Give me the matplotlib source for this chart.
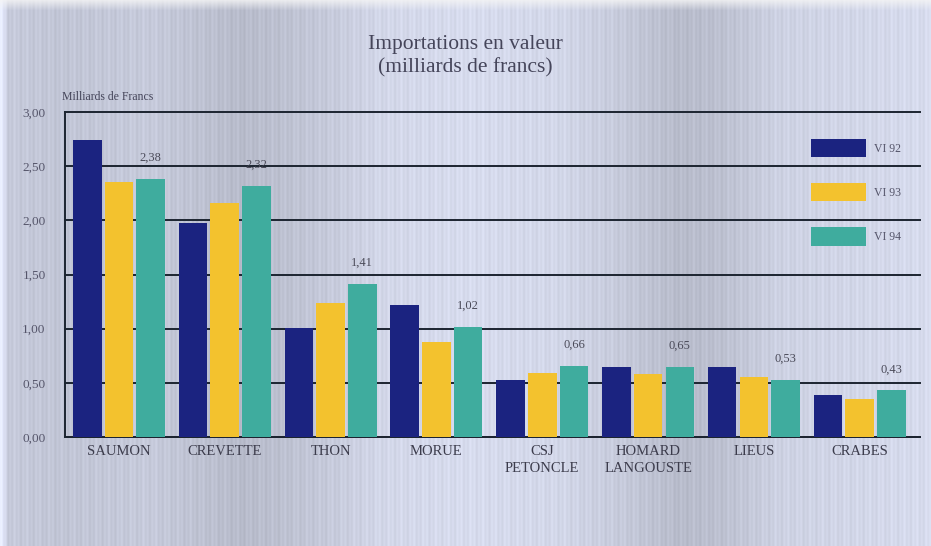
import numpy as np
import matplotlib
matplotlib.use("Agg")
import matplotlib.pyplot as plt

# import values, in billions of francs
categories = ["SAUMON", "CREVETTE", "THON", "MORUE", "CSJ\nPETONCLE",
              "HOMARD\nLANGOUSTE", "LIEUS", "CRABES"]
vi92 = [2.74, 1.98, 1.01, 1.22, 0.53, 0.65, 0.65, 0.39]
vi93 = [2.35, 2.16, 1.24, 0.88, 0.59, 0.58, 0.55, 0.35]
vi94 = [2.38, 2.32, 1.41, 1.02, 0.66, 0.65, 0.53, 0.43]
series_names = ["VI 92", "VI 93", "VI 94"]
yticks = [0.0, 0.5, 1.0, 1.5, 2.0, 2.5, 3.0]

colors = ["#1b2380", "#f3c22e", "#3fac9e"]
serif = "Liberation Serif"

W, H = 931, 546
fig = plt.figure(figsize=(W / 100, H / 100), dpi=100)

# paper background: pale grey-lavender wash with fine vertical streaks
bx = [0, 8, 60, 150, 240, 280, 330, 380, 470, 560, 620, 680, 720, 780, 860, 931]
br = [0.97, 0.82, 0.80, 0.82, 0.76, 0.78, 0.82, 0.87, 0.89, 0.87, 0.82, 0.76, 0.78, 0.85, 0.87, 0.89]
bg = fig.add_axes([0, 0, 1, 1])
xs = np.arange(W)
lum = np.interp(xs, bx, br)
streak = 0.018 * np.sin(xs * 2 * np.pi / 4.3) + 0.012 * np.sin(xs * 2 * np.pi / 11.7)
lum = lum + streak
rows = np.arange(H)[:, None]
top_fade = np.clip((10 - rows) / 10, 0, 1) * 0.8
img = np.zeros((H, W, 3))
img[..., 0] = (lum * 0.95)[None, :]
img[..., 1] = (lum * 0.97)[None, :]
img[..., 2] = np.clip(lum * 1.05, 0, 1)[None, :]
img = img * (1 - top_fade[..., None]) + 0.96 * top_fade[..., None]
bg.imshow(np.clip(img, 0, 1), aspect="auto", extent=[0, 1, 0, 1])
bg.set_axis_off()

ax = fig.add_axes([65 / W, 1 - 437 / H, (920 - 65) / W, (437 - 112) / H])
ax.set_facecolor("none")

x = np.arange(len(categories))
w = 0.27
off = 0.30
for i, (vals, c) in enumerate(zip([vi92, vi93, vi94], colors)):
    ax.bar(x + (i - 1) * off, vals, width=w, color=c, zorder=3,
           label=series_names[i])

for xi, v in zip(x, vi94):
    ax.text(xi + off, v + 0.14, f"{v:.2f}".replace(".", ","), ha="center",
            va="bottom", fontsize=9, color="#4a4a58", family=serif)

ax.set_ylim(0, 3.0)
ax.set_xlim(-0.51, 7.57)
ax.set_yticks(yticks)
ax.set_yticklabels([f"{t:.2f}".replace(".", ",") for t in yticks],
                   fontsize=9.5, color="#55556a", family=serif)
ax.set_xticks(x)
ax.set_xticklabels(categories, fontsize=10.5, color="#3c3c4c", family=serif,
                   linespacing=1.35)
ax.tick_params(length=0, pad=14)
ax.tick_params(axis="x", pad=6)
ax.yaxis.grid(True, color="#1c2430", linewidth=1.4, zorder=1, clip_on=False)
ax.set_axisbelow(True)
for s in ["top", "right"]:
    ax.spines[s].set_visible(False)
ax.spines["left"].set_color("#1c2430")
ax.spines["left"].set_linewidth(1.4)
ax.spines["bottom"].set_color("#1c2430")
ax.spines["bottom"].set_linewidth(1.4)

leg = ax.legend(loc="upper right", bbox_to_anchor=(0.99, 0.95), frameon=False,
                handlelength=4.6, handleheight=2.0, labelspacing=2.2,
                handletextpad=0.7, prop={"family": serif, "size": 8.5})
for t in leg.get_texts():
    t.set_color("#55556a")

fig.text(0.5, 1 - 56 / H, "Importations en valeur\n(milliards de francs)",
         ha="center", va="center", fontsize=15.5, color="#45455a",
         family=serif, linespacing=1.3)
fig.text(62 / W, 1 - 97 / H, "Milliards de Francs", ha="left", va="center",
         fontsize=8.5, color="#45455a", family=serif)

fig.savefig("out.png", dpi=100)
